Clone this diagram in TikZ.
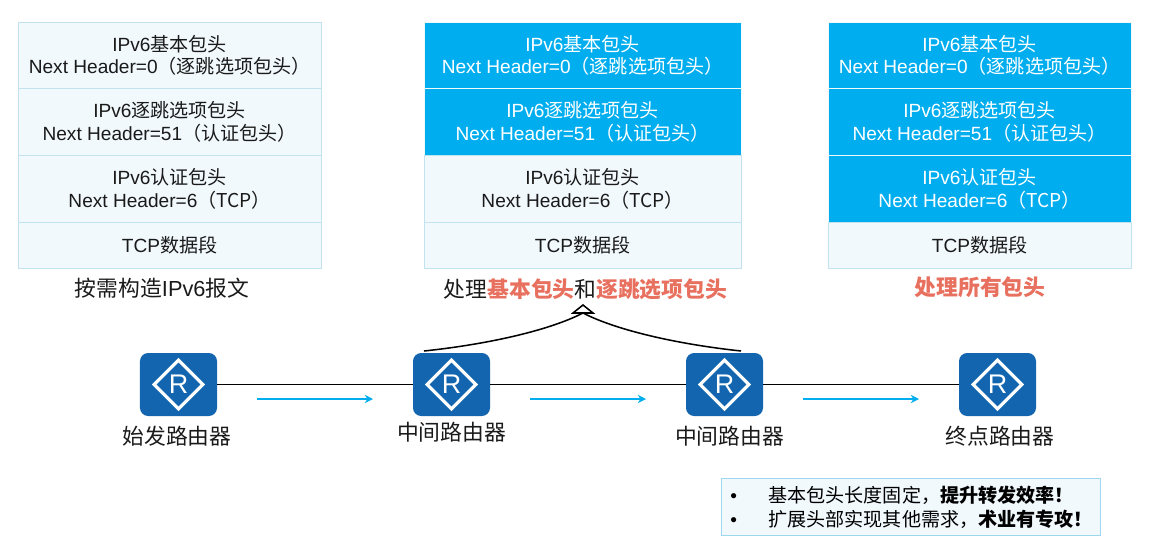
\documentclass[tikz,border=0pt]{standalone}
\usepackage{fontspec}
\setmainfont{Liberation Sans}
\newfontfamily\cjk{Noto Sans CJK SC}
\usetikzlibrary{shapes.geometric,positioning,arrows.meta}
\tikzset{>={Stealth[length=7pt,width=7pt]}}
\definecolor{paleblue}{HTML}{F1F9FD}
\definecolor{edgeblue}{HTML}{C3E2F0}
\definecolor{hdrblue}{HTML}{00AEEF}
\definecolor{routerblue}{HTML}{1265AE}
\definecolor{salmon}{HTML}{E8705F}
\definecolor{inkblack}{HTML}{1A1A1A}
\newcommand{\cn}[1]{{\cjk #1}}
\tikzset{
	hdrbox/.style={rectangle,draw=edgeblue,line width=.6pt,inner sep=0pt,outer sep=0pt,align=center,
		font=\fontsize{16.3}{19.6}\selectfont},
	plainrow/.style={hdrbox,fill=paleblue,text=inkblack},
	bluerow/.style={hdrbox,fill=hdrblue,draw=paleblue,text=white},
	caption/.style={font=\fontsize{18.6}{22}\selectfont,text=inkblack},
	routerbox/.style={rectangle,rounded corners=7pt,fill=routerblue,minimum width=2.31cm,minimum height=1.89cm,inner sep=0pt,outer sep=0pt},
	routermark/.style={diamond,draw=white,line width=2.6pt,minimum size=1.5cm,inner sep=0pt,text=white,font=\fontsize{23}{23}\selectfont},
	flowarrow/.style={->,draw=hdrblue,line width=.9pt},
	linkline/.style={draw=black,line width=.9pt},
	curveline/.style={draw=black,line width=1.3pt}
}
\begin{document}
\begin{tikzpicture}[x=.03cm,y=-.03cm]
	\useasboundingbox (0,0) rectangle (1165,552);
	% three header stacks
	\foreach \col/\xa/\wid/\sa/\sb/\sc in {a/18/9.10cm/plainrow/plainrow/plainrow,b/424/9.52cm/bluerow/bluerow/plainrow,c/828/9.10cm/bluerow/bluerow/bluerow}{
		\node[\sa,anchor=north west,minimum width=\wid,minimum height=2cm] (\col1) at (\xa,22) {IPv6\cn{基本包头}\\Next Header=0\cn{（逐跳选项包头）}};
		\node[\sb,below=0pt of \col1,minimum width=\wid,minimum height=2cm] (\col2) {IPv6\cn{逐跳选项包头}\\Next Header=51\cn{（认证包头）}};
		\node[\sc,below=0pt of \col2,minimum width=\wid,minimum height=2cm] (\col3) {IPv6\cn{认证包头}\\Next Header=6\cn{（TCP）}};
		\node[plainrow,below=0pt of \col3,minimum width=\wid,minimum height=1.38cm] (\col4) {TCP\cn{数据段}};
	}
	\node[caption] (capa) at (162,288) {\cn{按需构造}IPv6\cn{报文}};
	\node[caption] (capb) at (585.5,289) {\cn{处理}\textcolor{salmon}{\bfseries\cn{基本包头}}\cn{和}\textcolor{salmon}{\bfseries\cn{逐跳选项包头}}};
	\node[caption,text=salmon] (capc) at (980,287) {\bfseries\cn{处理所有包头}};
	% routers
	\foreach \name/\xa in {r1/178.5,r2/451.5,r3/724.5,r4/997.5}{
		\node[routerbox] (\name) at (\xa,384.5) {};
		\node[routermark] (\name m) at (\name) {R};
	}
	\node[caption] (la) at (177,436) {\cn{始发路由器}};
	\node[caption] (lb) at (451.5,432) {\cn{中间路由器}};
	\node[caption] (lc) at (729.5,436) {\cn{中间路由器}};
	\node[caption] (ld) at (1000,436) {\cn{终点路由器}};
	\draw[linkline] (r1) -- (r2);
	\draw[linkline] (r2) -- (r3);
	\draw[linkline] (r3) -- (r4);
	\foreach \i/\xa in {1/257,2/530,3/803}{
		\coordinate (fs\i) at (\xa,399);
		\coordinate (fe\i) at (\xa+116,399);
		\draw[flowarrow] (fs\i) -- (fe\i);
	}
	% both routers point at the caption
	\coordinate (apex) at (583,313);
	\coordinate (cl) at (424,351);
	\coordinate (cr) at (741,351);
	\draw[curveline] (cl) .. controls (490,344) and (550,330) .. (apex);
	\draw[curveline] (cr) .. controls (676,344) and (616,330) .. (apex);
	\draw[curveline,fill=white] (apex) -- ++(-10,0) -- ++(10,-8) -- ++(10,8) -- cycle;
	% remark
	\node[rectangle,draw=edgeblue!80!hdrblue,fill=paleblue,line width=.6pt,anchor=north west,minimum width=11.37cm,minimum height=1.71cm,
		text width=10.83cm,align=left,inner sep=0pt,font=\fontsize{16.3}{20.5}\selectfont,text=black] (remark) at (721,478)
		{\makebox[1.14cm][l]{•}\cn{基本包头长度固定，}\bfseries\cn{提升转发效率！}\\
		\mdseries\makebox[1.14cm][l]{•}\cn{扩展头部实现其他需求，}\bfseries\cn{术业有专攻！}};
\end{tikzpicture}
\end{document}
